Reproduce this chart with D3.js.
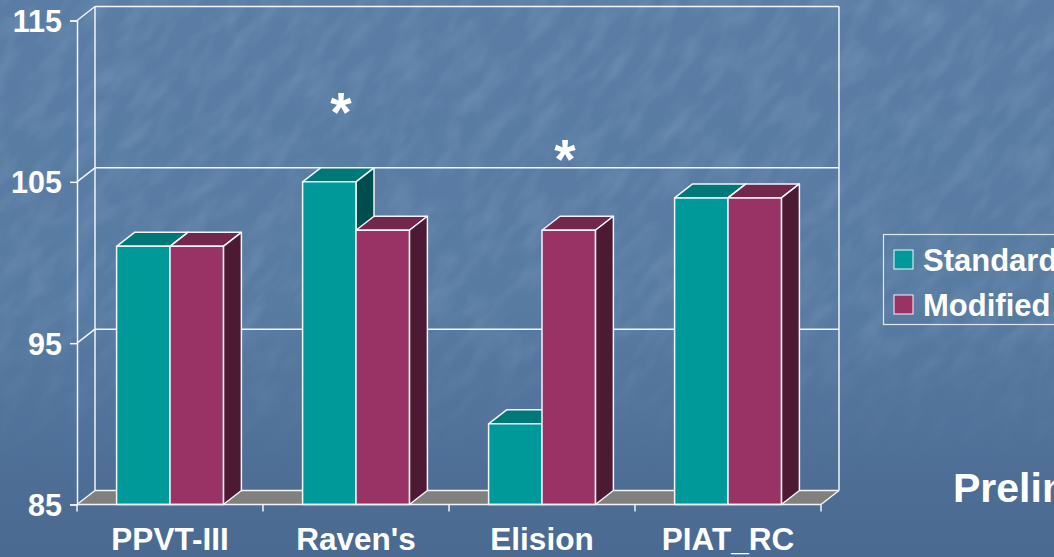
<!DOCTYPE html>
<html>
<head>
<meta charset="utf-8">
<script src="https://cdn.jsdelivr.net/npm/d3@7"></script>
<style>
  html, body { margin: 0; padding: 0; background: #4c6c94; overflow: hidden; }
  svg { display: block; }
  text { font-family: "Liberation Sans", Arial, sans-serif; font-weight: bold; fill: #fff; }
</style>
</head>
<body>
<svg id="chart" width="1054" height="557"></svg>
<script>
const categories = ["PPVT-III", "Raven's", "Elision", "PIAT_RC"];
const seriesNames = ["Standard", "Modified"];
const standardValues = [101, 105, 90, 104];
const modifiedValues = [101, 102, 102, 104];
const yTicks = [85, 95, 105, 115];
const starredCategories = ["Raven's", "Elision"];
const footerText = "Prelim";

const width = 1054,
  height = 557,
  plotLeft = 77,
  plotRight = 821,
  plotTop = 20.5,
  plotBottom = 504.5,
  depthX = 18, // shift of the back wall
  depthY = -14,
  barWidth = 53.4,
  lineColour = "#f2f5f9";

const faces = {
  Standard: { front: "#009999", top: "#007878", side: "#004d4d" },
  Modified: { front: "#993366", top: "#74274d", side: "#4d1a33" },
};

const svg = d3.select("#chart");
const defs = svg.append("defs");

const bgGradient = defs.append("linearGradient").attr("id", "bg").attr("x2", 0).attr("y2", 1);
bgGradient.append("stop").attr("offset", 0).attr("stop-color", "#5b7da5");
bgGradient.append("stop").attr("offset", 0.55).attr("stop-color", "#587ba2");
bgGradient.append("stop").attr("offset", 0.88).attr("stop-color", "#4d6d95");
bgGradient.append("stop").attr("offset", 1).attr("stop-color", "#4b6a92");

const fadeGradient = defs.append("linearGradient").attr("id", "fade").attr("x2", 0).attr("y2", 1);
fadeGradient.append("stop").attr("offset", 0).attr("stop-color", "#fff");
fadeGradient.append("stop").attr("offset", 0.55).attr("stop-color", "#fff");
fadeGradient.append("stop").attr("offset", 0.85).attr("stop-color", "#000");
defs.append("mask")
  .attr("id", "fadeMask")
  .attr("maskUnits", "userSpaceOnUse")
  .attr("x", 0).attr("y", 0).attr("width", width).attr("height", height)
  .append("rect")
  .attr("width", width).attr("height", height)
  .attr("fill", "url(#fade)");

// soft streaky mottling on the backdrop
const streaks = defs.append("filter")
  .attr("id", "streaks")
  .attr("filterUnits", "userSpaceOnUse")
  .attr("x", -700).attr("y", -700).attr("width", 2400).attr("height", 2400);
streaks.append("feTurbulence")
  .attr("type", "fractalNoise")
  .attr("baseFrequency", "0.025 0.06")
  .attr("numOctaves", 3)
  .attr("seed", 11);
streaks.append("feColorMatrix")
  .attr("values", "0 0 0 0 0.58  0 0 0 0 0.72  0 0 0 0 0.86  1.1 0 0 0 -0.42");
streaks.append("feGaussianBlur").attr("stdDeviation", 1.2);

svg.append("rect").attr("width", width).attr("height", height).attr("fill", "url(#bg)");
svg.append("g")
  .attr("mask", "url(#fadeMask)")
  .append("rect")
  .attr("x", -700).attr("y", -700).attr("width", 2400).attr("height", 2400)
  .attr("transform", "rotate(-50 527 278)")
  .attr("filter", "url(#streaks)")
  .attr("opacity", 0.25);

const y = d3.scaleLinear().domain([85, 115]).range([plotBottom, plotTop]);
const x = d3.scaleBand().domain(categories).range([plotLeft, plotRight]);

const line = (x1, y1, x2, y2) =>
  svg.append("line")
    .attr("x1", x1).attr("y1", y1).attr("x2", x2).attr("y2", y2)
    .attr("stroke", lineColour)
    .attr("stroke-width", 1.5);

// floor
svg.append("polygon")
  .attr("points", [
    [plotLeft, plotBottom],
    [plotLeft + depthX, plotBottom + depthY],
    [plotRight + depthX, plotBottom + depthY],
    [plotRight, plotBottom],
  ].join(" "))
  .attr("fill", "#808080");

// back wall and side wall
yTicks.forEach((t) => {
  line(plotLeft, y(t), plotLeft + depthX, y(t) + depthY);
  line(plotLeft + depthX, y(t) + depthY, plotRight + depthX, y(t) + depthY);
});
line(plotLeft + depthX, plotTop + depthY, plotLeft + depthX, plotBottom + depthY);
line(plotRight + depthX, plotTop + depthY, plotRight + depthX, plotBottom + depthY);
line(plotRight, plotBottom, plotRight + depthX, plotBottom + depthY);

// bars, back faces first so each front covers its neighbour's top
const barData = categories.flatMap((c, i) => [
  { category: c, series: "Standard", value: standardValues[i], offset: 0 },
  { category: c, series: "Modified", value: modifiedValues[i], offset: 1 },
]);

const barGroup = svg.append("g")
  .selectAll("g")
  .data(barData)
  .join("g")
  .attr("stroke", lineColour)
  .attr("stroke-width", 1.5)
  .attr("stroke-linejoin", "round");

const barLeft = (d) => x(d.category) + (x.bandwidth() - 2 * barWidth) / 2 + d.offset * barWidth;

barGroup.append("polygon")
  .attr("fill", (d) => faces[d.series].top)
  .attr("points", (d) => {
    const l = barLeft(d), t = y(d.value);
    return [[l, t], [l + depthX, t + depthY], [l + barWidth + depthX, t + depthY], [l + barWidth, t]].join(" ");
  });

barGroup.append("polygon")
  .attr("fill", (d) => faces[d.series].side)
  .attr("points", (d) => {
    const l = barLeft(d) + barWidth, t = y(d.value);
    return [[l, t], [l + depthX, t + depthY], [l + depthX, plotBottom + depthY], [l, plotBottom]].join(" ");
  });

barGroup.append("rect")
  .attr("fill", (d) => faces[d.series].front)
  .attr("x", barLeft)
  .attr("y", (d) => y(d.value))
  .attr("width", barWidth)
  .attr("height", (d) => plotBottom - y(d.value));

// axes
const yAxis = svg.append("g")
  .attr("transform", `translate(${plotLeft},0)`)
  .call(d3.axisLeft(y).tickValues(yTicks).tickSize(7).tickPadding(8));
yAxis.select(".domain").attr("stroke", lineColour).attr("stroke-width", 1.5);
yAxis.selectAll(".tick line").attr("stroke", lineColour).attr("stroke-width", 1.5);
yAxis.selectAll(".tick text").attr("font-size", 30.5).attr("font-family", null).attr("dy", "0.36em");

const xAxis = svg.append("g")
  .attr("transform", `translate(0,${plotBottom})`)
  .call(d3.axisBottom(x).tickSize(0).tickPadding(23));
xAxis.select(".domain").remove();
xAxis.selectAll(".tick text").attr("font-size", 31.5).attr("font-family", null).attr("dy", "0.71em");

svg.append("line")
  .attr("x1", plotLeft).attr("y1", plotBottom).attr("x2", plotRight).attr("y2", plotBottom)
  .attr("stroke", lineColour).attr("stroke-width", 1.5);
categories.concat(null).forEach((c) => {
  const tx = c === null ? plotRight : x(c);
  line(tx, plotBottom, tx, plotBottom + 7);
});

// significance stars
svg.append("g")
  .selectAll("text")
  .data(starredCategories)
  .join("text")
  .attr("x", (d, i) => x(d) + x.bandwidth() / 2 + (i === 0 ? -15 : 23))
  .attr("y", (d, i) => (i === 0 ? 131 : 178))
  .attr("text-anchor", "middle")
  .attr("font-size", 55)
  .text("*");

// legend runs past the right edge of the page
svg.append("rect")
  .attr("x", 883.5).attr("y", 234.5).attr("width", 200).attr("height", 90)
  .attr("fill", "none")
  .attr("stroke", "#dfe6ee").attr("stroke-width", 1.2);

const legend = svg.append("g")
  .selectAll("g")
  .data(seriesNames)
  .join("g")
  .attr("transform", (d, i) => `translate(894,${250 + i * 45})`);
legend.append("rect")
  .attr("width", 19).attr("height", 19)
  .attr("fill", (d) => faces[d].front)
  .attr("stroke", lineColour).attr("stroke-width", 1);
legend.append("text")
  .attr("x", 29).attr("y", 21)
  .attr("font-size", 31)
  .text((d) => d);

svg.append("text")
  .attr("x", 953).attr("y", 502)
  .attr("font-size", 41)
  .text(footerText);
</script>
</body>
</html>
